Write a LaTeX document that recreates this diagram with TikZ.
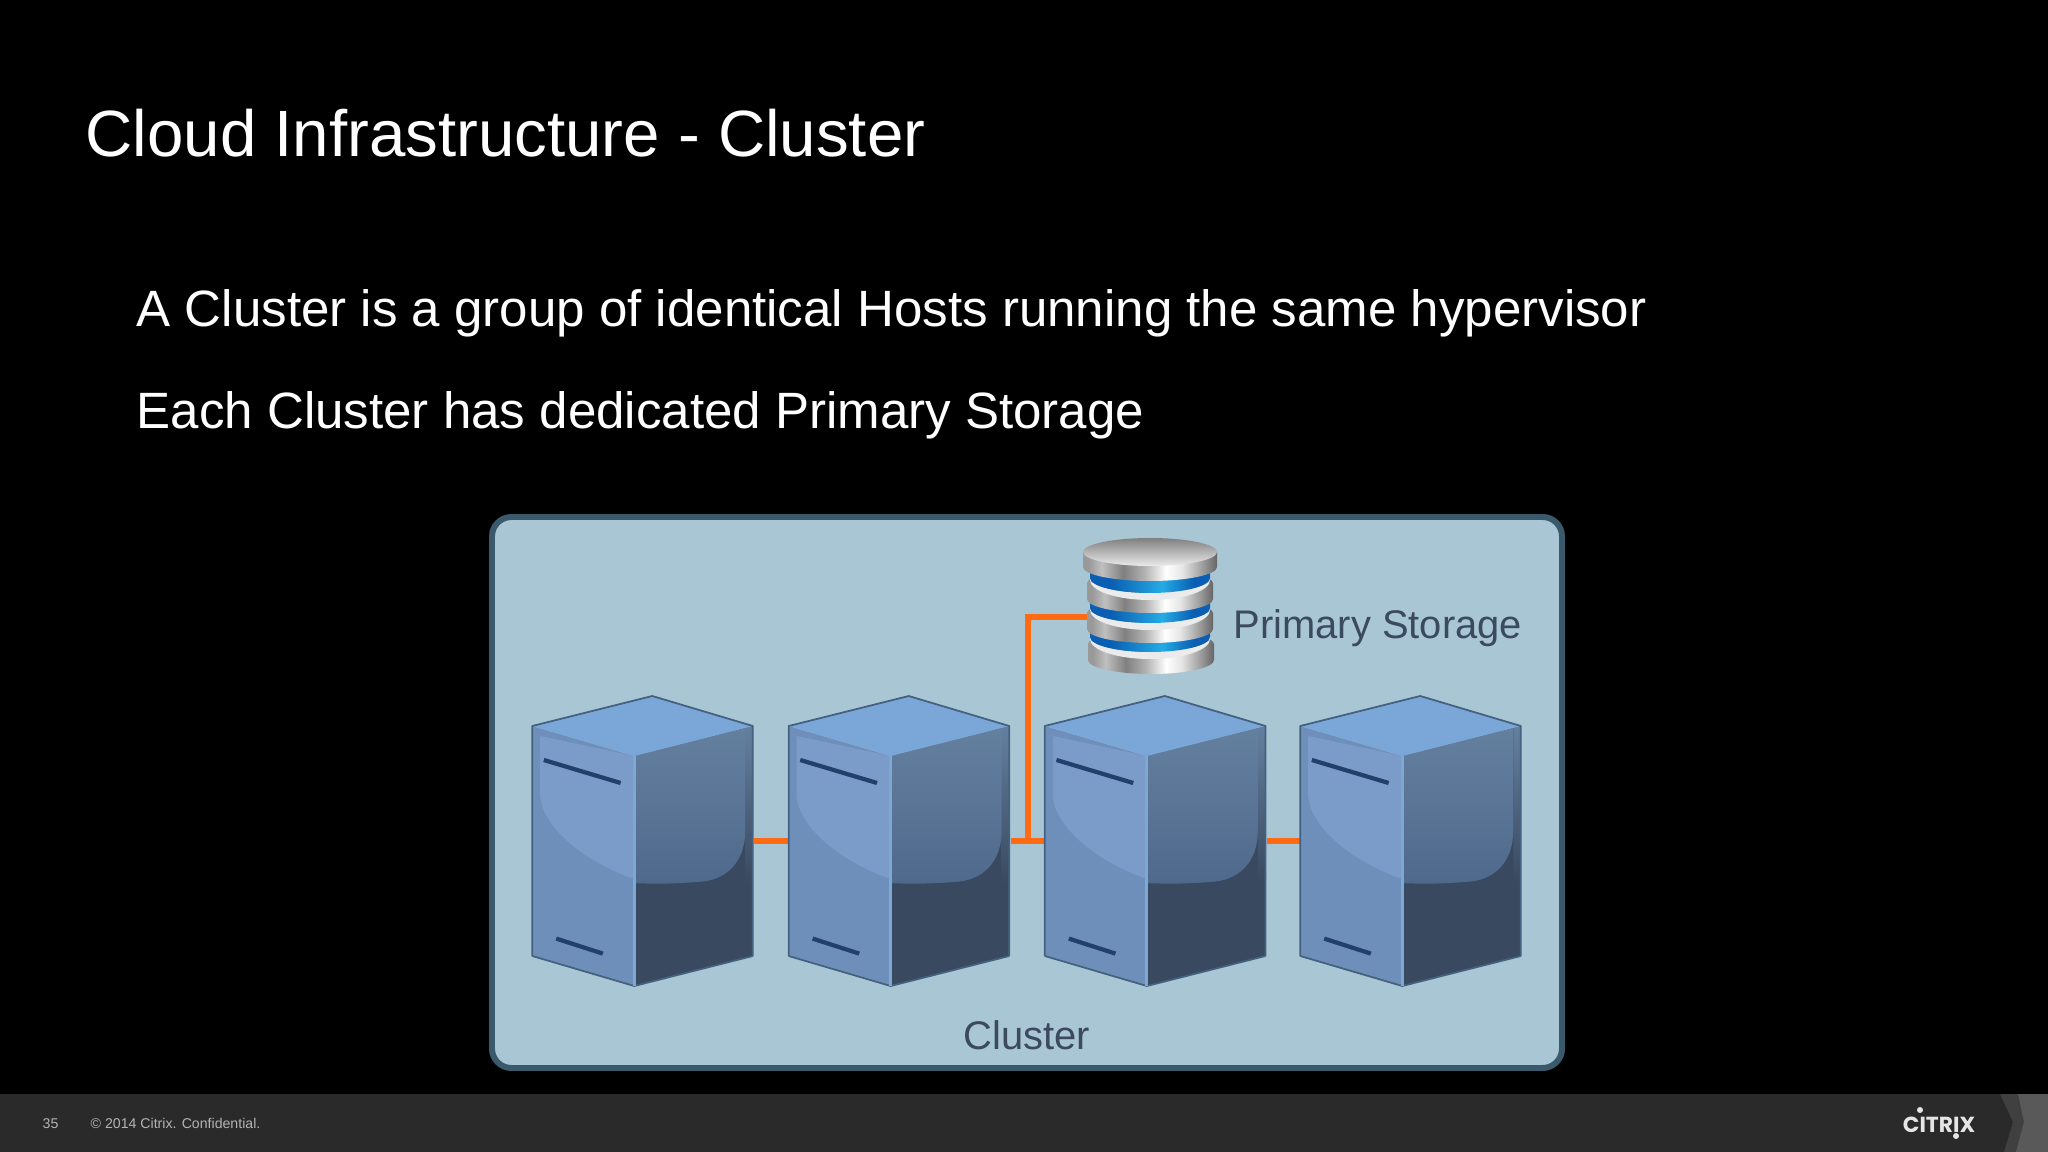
\documentclass[tikz,border=0pt]{standalone}
\usepackage{fontspec}
\setmainfont{Liberation Sans}
\newfontfamily\logofont{Poppins}
\usetikzlibrary{calc}
\definecolor{panelfill}{HTML}{A9C6D4}
\definecolor{paneledge}{HTML}{3A5A6C}
\definecolor{linkorange}{HTML}{FF6A13}
\definecolor{labelink}{HTML}{3C4A60}
\definecolor{footbar}{HTML}{2A2A2A}
\definecolor{foottext}{HTML}{B4B4B4}
\definecolor{hostedge}{HTML}{44617F}
\definecolor{hostslit}{HTML}{22406A}
\definecolor{hostlight}{HTML}{7FA7D4}
\definecolor{hosttop}{HTML}{7BA6D8}
\definecolor{hostfront}{HTML}{6D8FB9}
\definecolor{hostgloss}{HTML}{7B9CC8}
\definecolor{hostglosstop}{HTML}{64809F}
\definecolor{hostglossend}{HTML}{4F698C}
\definecolor{hostshade}{HTML}{39495F}
\definecolor{ringdeep}{HTML}{0A5FB4}
\definecolor{ringglow}{HTML}{25ABE4}
\pgfdeclarehorizontalshading{metal}{100bp}{
  color(0bp)=(black!40); color(27bp)=(black!40); color(32bp)=(black!25); color(40bp)=(black!50);
  color(48bp)=(black!30); color(56bp)=(white); color(62bp)=(black!10);
  color(70bp)=(black!40); color(75bp)=(black!60); color(100bp)=(black!60)}
\pgfdeclarehorizontalshading{bluering}{100bp}{
  color(0bp)=(ringdeep); color(34bp)=(ringdeep);
  color(55bp)=(ringglow); color(68bp)=(ringdeep); color(100bp)=(ringdeep)}
\tikzset{
  slidetitle/.style={anchor=base west, text=white, inner sep=0pt, font=\fontsize{18.6}{22}\selectfont},
  slidebody/.style={anchor=base west, text=white, inner sep=0pt, font=\fontsize{14.52}{18}\selectfont},
  panellabel/.style={text=labelink, inner sep=0pt, font=\fontsize{11.35}{14}\selectfont},
  footlabel/.style={anchor=base west, text=foottext, inner sep=0pt, font=\fontsize{4.02}{5}\selectfont},
  hostbox/.style={inner sep=0pt, minimum width=2.206cm, minimum height=2.9cm},
  storebox/.style={inner sep=0pt, minimum width=1.34cm, minimum height=1.37cm},
  link/.style={draw=linkorange, line width=1.8pt},
  host/.pic={
    \fill[hostfront] (0,-115) -- (102,-85) -- (102,145) -- (0,115) -- cycle;
    \fill[hostgloss] (8,-105) -- (8,-45) .. controls (10,-15) and (50,20) .. (102,38) -- (102,-85) -- cycle;
    \fill[hostshade] (102,-85) -- (220.6,-115) -- (220.6,115) -- (102,145) -- cycle;
    \shade[top color=hostglosstop, bottom color=hostshade] (213,-113) -- (220.6,-115) -- (220.6,42) -- (213,42) -- cycle;
    \shade[top color=hostglosstop, bottom color=hostglossend] (102,-85) -- (213,-113) -- (213,-10) .. controls (213,20) and (195,40) .. (165,41) .. controls (140,43) and (120,43) .. (102,42) -- cycle;
    \fill[hosttop] (0,-115) -- (120,-145) -- (220.6,-115) -- (102,-85) -- cycle;
    \draw[hostedge, line width=.5pt, line join=round] (0,115) -- (0,-115) -- (120,-145) -- (220.6,-115) -- (220.6,115);
    \draw[hostedge, line width=.5pt] (0,115) -- (102,145) -- (220.6,115);
    \draw[hostlight, line width=.8pt] (102,-85) -- (102,145);
    \draw[hostslit, line width=1.2pt] (11.6,-81) -- (88.4,-58);
    \draw[hostslit, line width=1.2pt] (24,97.6) -- (70.6,112.6);
  },
  platter/.pic={
    \shade[shading=metal] (-63,32) -- (-63,48) arc[start angle=180, end angle=0, x radius=63, y radius=14] -- (63,32) arc[start angle=0, end angle=-180, x radius=63, y radius=12] -- cycle;
  },
  ring/.pic={
    \fill[black!8] (-60,12) arc[start angle=180, end angle=0, x radius=60, y radius=15] -- (60,14) arc[start angle=0, end angle=180, x radius=60, y radius=20] -- cycle;
    \shade[shading=bluering] (-60,0) -- (-60,12) arc[start angle=180, end angle=0, x radius=60, y radius=15] -- (60,0) -- cycle;
  },
}
\begin{document}
\begin{tikzpicture}[x=0.01cm, y=-0.01cm]
\useasboundingbox (0,0) rectangle (2048,1152);
\fill[black] (0,0) rectangle (2048,1152);
\fill[footbar] (0,1094) rectangle (2048,1152);
\fill[black!75] (2000,1094) -- (2013,1122) -- (2004,1152) -- (2048,1152) -- (2048,1094) -- cycle;
\fill[black!65] (2018,1094) -- (2024,1122) -- (2016,1152) -- (2048,1152) -- (2048,1094) -- cycle;
\node[slidetitle] (title) at (85,157) {Cloud Infrastructure - Cluster};
\node[slidebody] (lineone) at (136,327) {A Cluster is a group of identical Hosts running the same hypervisor};
\node[slidebody] (linetwo) at (136,429) {Each Cluster has dedicated Primary Storage};
\filldraw[fill=panelfill, draw=paneledge, line width=1.7pt, rounded corners=5.5pt] (492,517) rectangle (1562,1068);
\node[hostbox] (hosta) at (643.3,841) {};
\node[hostbox] (hostb) at (899.7,841) {};
\node[hostbox] (hostc) at (1155.9,841) {};
\node[hostbox] (hostd) at (1411.3,841) {};
\node[storebox] (store) at (1150,606) {};
\coordinate (tap) at ($(hostb.east)!.5!(hostc.west)$);
\coordinate (storeport) at (1090,617);
\draw[link]
(hosta) -- (hostb)
(hostb) -- (hostc)
(hostc) -- (hostd);
\draw[link] (tap) |- (storeport);
\pic at (hosta.west) {host};
\pic at (hostb.west) {host};
\pic at (hostc.west) {host};
\pic at (hostd.west) {host};
\pic at (1151,612) {platter};
\pic at (1150,625) {ring};
\pic at (1150,581) {platter};
\pic at (1150,596) {ring};
\pic at (1150,551) {platter};
\pic at (1150,566) {ring};
\shade[shading=metal] (1083,552) -- (1083,567) arc[start angle=180, end angle=0, x radius=67, y radius=14] -- (1217,552) -- cycle;
\shade[top color=black!50, bottom color=black!8] (1150,552) ellipse [x radius=67, y radius=14];
\node[panellabel, anchor=base west] (storelabel) at (1233,639) {Primary Storage};
\node[panellabel, anchor=base] (clusterlabel) at (1027,1049) {Cluster};
\node[footlabel] (pagenum) at (42,1128) {35};
\node[footlabel] (copyline) at (90,1128) {© 2014 Citrix. Confidential.};
\node[anchor=base, text=black!10, inner sep=0pt, font=\logofont\fontsize{6.2}{8}\selectfont\bfseries] (logo) at (1939,1132) {CITRIX};
\fill[black!10] (1920,1110) circle [radius=3];
\fill[black!10] (1956,1136) circle [radius=3];
\end{tikzpicture}
\end{document}
